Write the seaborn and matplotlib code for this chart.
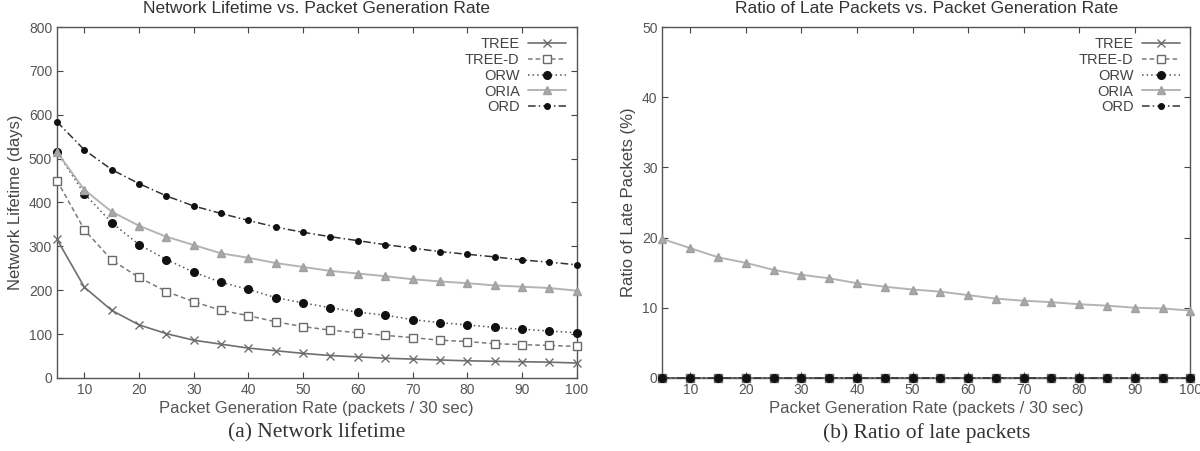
import numpy as np
import pandas as pd
import matplotlib
matplotlib.use("Agg")
import matplotlib.pyplot as plt
import seaborn as sns

rate = [5, 10, 15, 20, 25, 30, 35, 40, 45, 50, 55, 60, 65, 70, 75, 80, 85, 90, 95, 100]
series = ["TREE", "TREE-D", "ORW", "ORIA", "ORD"]

life_tree = [316, 207, 154, 121, 101, 86, 77, 68, 62, 56, 51, 48, 45, 43, 41, 39, 38, 37, 36, 34]
life_treed = [450, 338, 269, 229, 197, 174, 154, 142, 128, 117, 109, 103, 97, 92, 86, 83, 78, 76, 74, 72]
life_orw = [515, 420, 354, 304, 270, 241, 218, 202, 183, 171, 160, 150, 143, 133, 126, 121, 115, 111, 107, 103]
life_oria = [515, 429, 379, 347, 322, 303, 284, 274, 262, 253, 244, 238, 232, 225, 220, 216, 211, 208, 205, 199]
life_ord = [584, 520, 475, 443, 415, 392, 375, 359, 344, 332, 322, 313, 304, 296, 288, 282, 276, 269, 264, 258]

late_tree = [0] * 20
late_treed = [0] * 20
late_orw = [0] * 20
late_oria = [19.8, 18.5, 17.2, 16.4, 15.4, 14.7, 14.2, 13.5, 13.0, 12.6, 12.3, 11.8, 11.3, 11.0, 10.8, 10.5, 10.3, 10.0, 9.9, 9.6]
late_ord = [0] * 20

sns.set_theme(style="ticks")
plt.rcParams['font.family'] = ['Liberation Sans', 'DejaVu Sans']

styles = {
    "TREE":   dict(color="#6e6e6e", ls="-",  marker="x", ms=6, mfc="#6e6e6e", mec="#6e6e6e", lw=1.2),
    "TREE-D": dict(color="#7a7a7a", ls=(0, (3, 2)), marker="s", ms=6, mfc="white", mec="#6a6a6a", lw=1.1),
    "ORW":    dict(color="#555555", ls=(0, (1, 2)), marker="o", ms=5.5, mfc="#111111", mec="#111111", lw=1.1),
    "ORIA":   dict(color="#b4b4b4", ls="-",  marker="^", ms=6, mfc="#a8a8a8", mec="#a0a0a0", lw=1.4),
    "ORD":    dict(color="#333333", ls=(0, (5, 2, 1, 2)), marker="o", ms=4, mfc="#111111", mec="#111111", lw=1.1),
}

fig = plt.figure(figsize=(12, 4.51), dpi=100)
ax1 = fig.add_axes([0.0475, 0.162, 0.433, 0.778])
ax2 = fig.add_axes([0.552, 0.162, 0.440, 0.778])

def draw(ax, data, ymax, ystep, ylabel, title, caption):
    for name, vals in zip(series, data):
        st = styles[name]
        sns.lineplot(x=rate, y=vals, ax=ax, label=name, color=st["color"],
                     linestyle=st["ls"], linewidth=st["lw"], marker=st["marker"],
                     markersize=st["ms"], markerfacecolor=st["mfc"],
                     markeredgecolor=st["mec"], markeredgewidth=1.0, zorder=3,
                     clip_on=False)
    ax.set_xlim(5, 100)
    ax.set_ylim(0, ymax)
    ax.set_xticks(range(10, 101, 10))
    ax.set_yticks(np.arange(0, ymax + 1, ystep))
    ax.tick_params(direction="in", top=True, right=True, labelsize=10,
                   colors="#444444", labelcolor="#555555", length=4, width=0.8)
    for s in ax.spines.values():
        s.set_color("#555555")
        s.set_linewidth(1.0)
    ax.set_xlabel("Packet Generation Rate (packets / 30 sec)", fontsize=12, color="#555555", labelpad=3)
    ax.set_ylabel(ylabel, fontsize=12, color="#444444", labelpad=4)
    ax.set_title(title, fontsize=12.5, color="#333333", pad=10)
    ax.text(0.5, -0.13, caption, transform=ax.transAxes, ha="center", va="top",
            fontsize=15.5, family="Liberation Serif", color="#333333")
    leg = ax.legend(loc="upper right", frameon=False, markerfirst=False, fontsize=10.5,
                    handlelength=2.6, handletextpad=0.6, labelspacing=0.12,
                    borderaxespad=0.3)
    for t in leg.get_texts():
        t.set_color("#444444")

draw(ax1, [life_tree, life_treed, life_orw, life_oria, life_ord], 800, 100,
     "Network Lifetime (days)", "Network Lifetime vs. Packet Generation Rate",
     "(a) Network lifetime")
draw(ax2, [late_tree, late_treed, late_orw, late_oria, late_ord], 50, 10,
     "Ratio of Late Packets (%)", "Ratio of Late Packets vs. Packet Generation Rate",
     "(b) Ratio of late packets")

fig.savefig("out.png", dpi=100)
